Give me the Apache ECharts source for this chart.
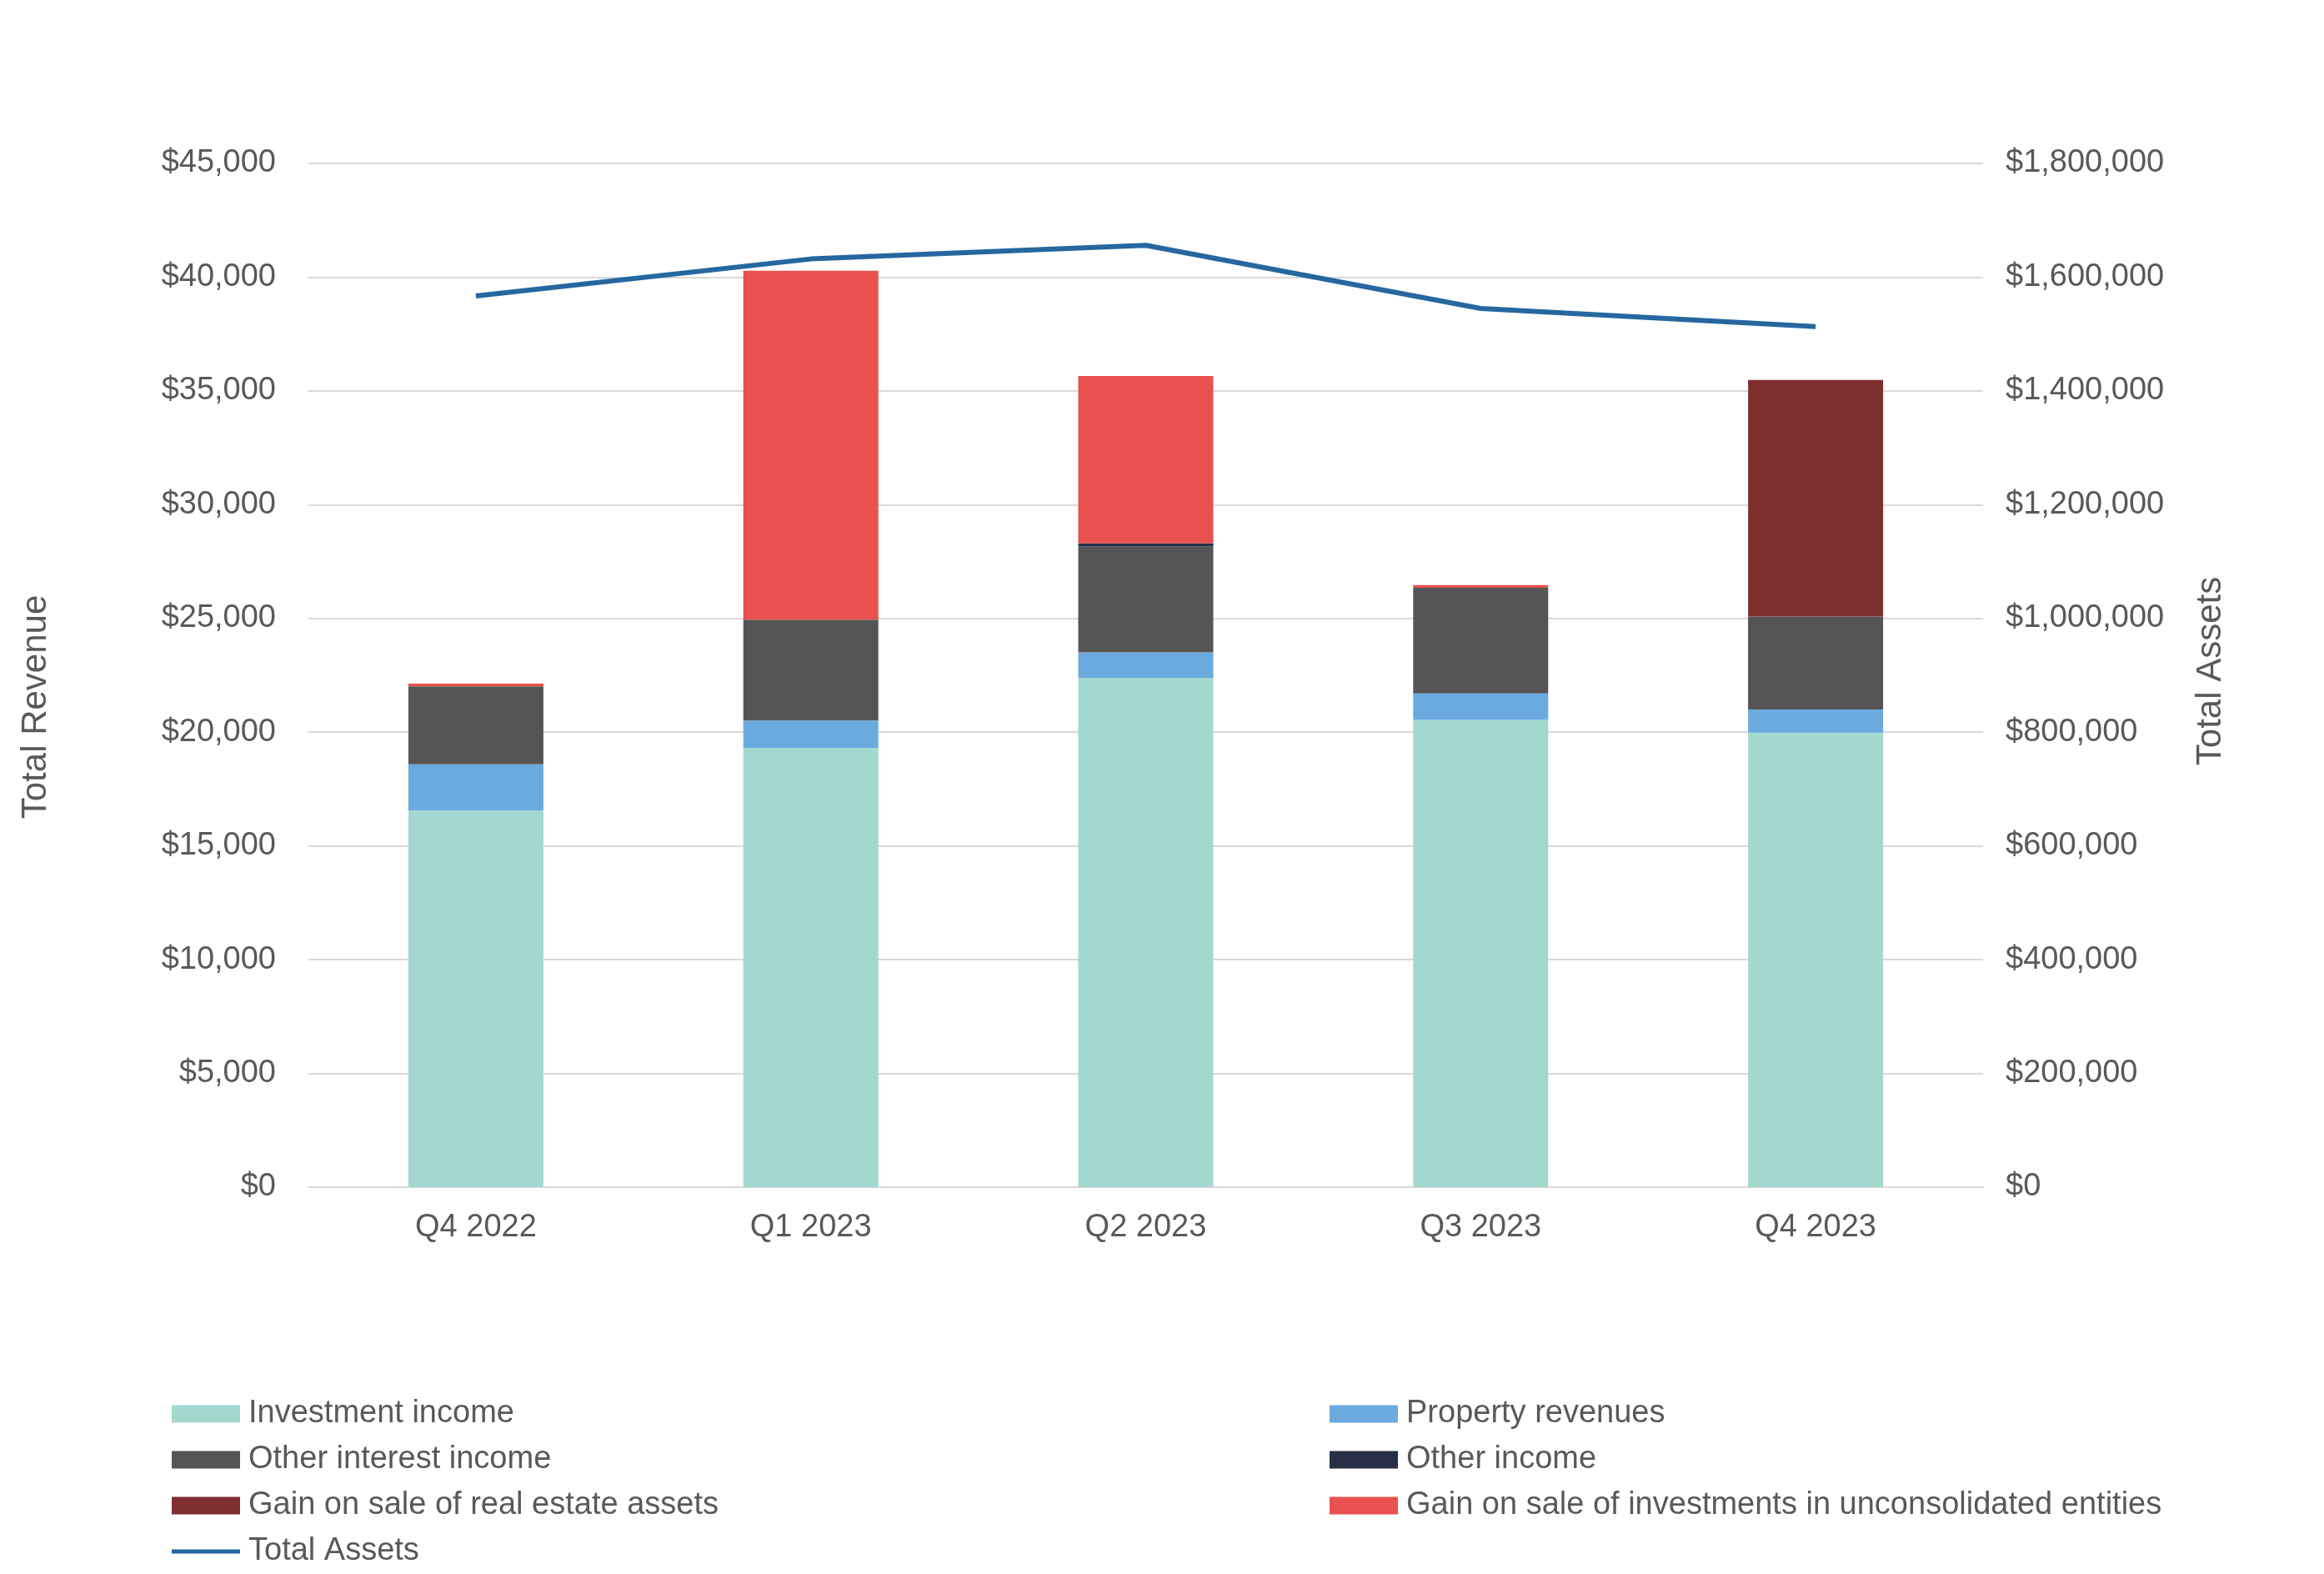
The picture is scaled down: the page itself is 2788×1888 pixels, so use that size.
<!DOCTYPE html>
<html>
<head>
<meta charset="utf-8">
<script src="https://cdn.jsdelivr.net/npm/echarts@6/dist/echarts.min.js"></script>
<style>
html,body{margin:0;padding:0;background:#fff;}
#chart{width:2788px;height:1888px;}
</style>
</head>
<body>
<div id="chart"></div>
<script>
const categories = ['Q4 2022', 'Q1 2023', 'Q2 2023', 'Q3 2023', 'Q4 2023'];
const investmentIncome = [16550, 19300, 22390, 20540, 19980];
const propertyRevenues = [2035, 1215, 1120, 1165, 1020];
const otherInterestIncome = [3430, 4435, 4665, 4645, 4085];
const otherIncome = [0, 0, 120, 0, 0];
const gainRealEstate = [0, 0, 0, 0, 10400];
const gainInvestments = [115, 15330, 7365, 120, 0];
const totalAssets = [1567000, 1632000, 1656000, 1545000, 1513000];
const leftTicks = [0, 5000, 10000, 15000, 20000, 25000, 30000, 35000, 40000, 45000];
const rightTicks = [0, 200000, 400000, 600000, 800000, 1000000, 1200000, 1400000, 1600000, 1800000];

const FONT = "'Liberation Sans', Arial, sans-serif";
const TXT = '#595959';
const fmt = v => '$' + Math.round(v).toLocaleString('en-US');

const chart = echarts.init(document.getElementById('chart'));
function bar(name, data, color) {
  return { name, type: 'bar', stack: 'rev', data, barWidth: 162, itemStyle: { color }, emphasis: { disabled: true } };
}
const legendCommon = {
  orient: 'vertical', itemWidth: 82, itemHeight: 21, itemGap: 13, padding: 0, height: 212,
  textStyle: { fontFamily: FONT, fontSize: 38, color: TXT, lineHeight: 42, padding: [0, 0, 0, 5] },
  icon: 'rect'
};
chart.setOption({
  backgroundColor: '#fff',
  animation: false,
  grid: { left: 370, right: 409, top: 196, bottom: 464, containLabel: false },
  legend: [
    Object.assign({}, legendCommon, { left: 206, top: 1675,
      data: ['Investment income', 'Other interest income', 'Gain on sale of real estate assets', { name: 'Total Assets', icon: 'path://M0,8 L82,8 L82,13 L0,13 Z' }] }),
    Object.assign({}, legendCommon, { left: 1595, top: 1675,
      data: ['Property revenues', 'Other income', 'Gain on sale of investments in unconsolidated entities'] })
  ],
  xAxis: {
    type: 'category', data: categories,
    axisLine: { lineStyle: { color: '#d9d9d9', width: 2 } },
    axisTick: { show: false },
    axisLabel: { fontFamily: FONT, fontSize: 38, color: TXT, margin: 30 }
  },
  yAxis: [
    {
      type: 'value', min: leftTicks[0], max: leftTicks[leftTicks.length - 1], interval: 5000,
      axisLine: { show: false }, axisTick: { show: false },
      splitLine: { lineStyle: { color: '#d9d9d9', width: 2 } },
      axisLabel: { fontFamily: FONT, fontSize: 38, color: TXT, margin: 39, formatter: fmt }
    },
    {
      type: 'value', min: rightTicks[0], max: rightTicks[rightTicks.length - 1], interval: 200000,
      axisLine: { show: false }, axisTick: { show: false }, splitLine: { show: false },
      axisLabel: { fontFamily: FONT, fontSize: 38, color: TXT, margin: 27, formatter: fmt }
    }
  ],
  graphic: [
    { type: 'text', id: 'tl', x: 43, y: 848, rotation: Math.PI / 2,
      style: { text: 'Total Revenue', font: "42px 'Liberation Sans', Arial, sans-serif", fill: TXT, align: 'center', verticalAlign: 'middle' } },
    { type: 'text', id: 'tr', x: 2652, y: 805, rotation: Math.PI / 2,
      style: { text: 'Total Assets', font: "42px 'Liberation Sans', Arial, sans-serif", fill: TXT, align: 'center', verticalAlign: 'middle' } }
  ],
  series: [
    bar('Investment income', investmentIncome, '#a3d8cf'),
    bar('Property revenues', propertyRevenues, '#6aaadf'),
    bar('Other interest income', otherInterestIncome, '#555557'),
    bar('Other income', otherIncome, '#262f45'),
    bar('Gain on sale of real estate assets', gainRealEstate, '#7f2e30'),
    bar('Gain on sale of investments in unconsolidated entities', gainInvestments, '#e8514d'),
    { name: 'Total Assets', type: 'line', yAxisIndex: 1, data: totalAssets, symbol: 'none',
      lineStyle: { color: '#2667a0', width: 6 }, itemStyle: { color: '#2667a0' }, emphasis: { disabled: true } }
  ]
});
</script>
</body>
</html>
